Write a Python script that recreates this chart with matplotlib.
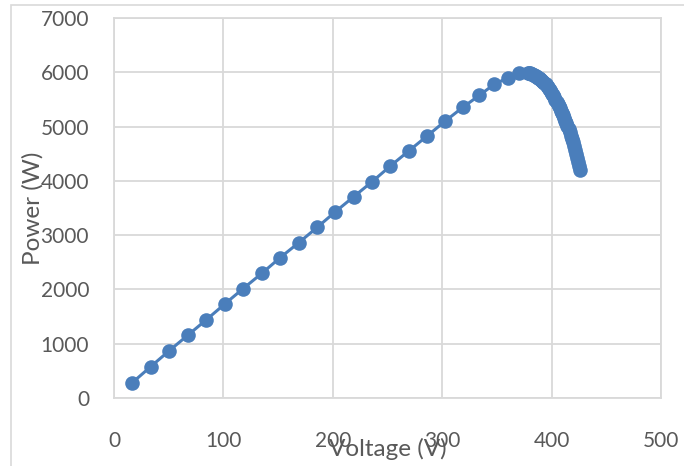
import numpy as np
import matplotlib.pyplot as plt
from matplotlib.patches import Rectangle

# Curva P-V del arreglo fotovoltaico
voltage = [16.7, 33.5, 50.2, 67.3, 84.1, 101.2, 117.9, 135.1, 151.8, 168.9,
           185.7, 202.4, 219.1, 235.9, 252.6, 269.3, 286.1, 302.4, 318.7, 333.9,
           347.8, 360.2, 370.1, 378.1,
           379.5, 380.5, 381.5, 382.5, 383.5, 384.5, 385.5, 386.5, 387.5, 388.5,
           389.5, 390.5, 391.5, 392.5, 393.5, 394.5, 395.5, 396.5, 397.5, 398.5,
           399.5, 400.5, 401.5, 402.5, 403.5, 404.5, 405.5, 406.5, 407.5, 408.5,
           409.5, 410.5, 411.5, 412.5, 413.5, 414.5, 415.5, 416.5, 417.5, 418.5,
           419.5, 420.5, 421.5, 422.5, 423.5, 424.5, 425.5, 426.2]
power = [282, 577, 866, 1154, 1436, 1731, 2013, 2296, 2584, 2861,
         3143, 3432, 3708, 3984, 4273, 4549, 4825, 5095, 5353, 5574,
         5783, 5899, 5979, 5991,
         5985, 5978, 5970, 5961, 5951, 5940, 5928, 5915, 5901, 5886,
         5870, 5853, 5835, 5816, 5796, 5775, 5753, 5728, 5701, 5672,
         5641, 5608, 5573, 5536, 5498, 5459, 5419, 5378, 5336, 5293,
         5249, 5204, 5157, 5108, 5057, 5004, 4949, 4892, 4833, 4772,
         4709, 4643, 4574, 4502, 4427, 4348, 4265, 4205]

x_ticks = [0, 100, 200, 300, 400, 500]
y_ticks = [0, 1000, 2000, 3000, 4000, 5000, 6000, 7000]

grid_color = '#d9d9d9'
text_color = '#595959'
blue = '#4a7ebb'

plt.rcParams['font.family'] = ['Lato', 'DejaVu Sans']

fig = plt.figure(figsize=(6.84, 4.66), dpi=100)
ax = fig.add_axes([114 / 684, 1 - 398 / 466, 547 / 684, 380 / 466])

# Marco exterior del gráfico
fig.patches.append(Rectangle((10.5 / 684, -0.1), 1.2, 1.1 - 4.5 / 466,
                             transform=fig.transFigure, fill=False,
                             edgecolor=grid_color, linewidth=1.2))

ax.plot(voltage, power, color=blue, linewidth=2.2, marker='o',
        markersize=10.5, markeredgewidth=0, zorder=3)

ax.set_xlim(0, 500)
ax.set_ylim(0, 7000)
ax.set_xticks(x_ticks)
ax.set_yticks(y_ticks)
ax.grid(True, color=grid_color, linewidth=1.3)
ax.set_axisbelow(True)
for s in ax.spines.values():
    s.set_color(grid_color)
    s.set_linewidth(1.3)
ax.tick_params(axis='both', length=0, labelsize=15, colors=text_color)
ax.tick_params(axis='x', pad=24)
ax.tick_params(axis='y', pad=18)

ax.set_xlabel('Voltage (V)', fontsize=17.5, color=text_color)
ax.set_ylabel('Power (W)', fontsize=17.5, color=text_color)
ax.xaxis.set_label_coords(0.5, -0.134)
ax.xaxis.label.set_verticalalignment('center')
ax.yaxis.set_label_coords(-0.148, 0.5)
ax.yaxis.label.set_verticalalignment('center')

fig.savefig('out.png', dpi=100)
